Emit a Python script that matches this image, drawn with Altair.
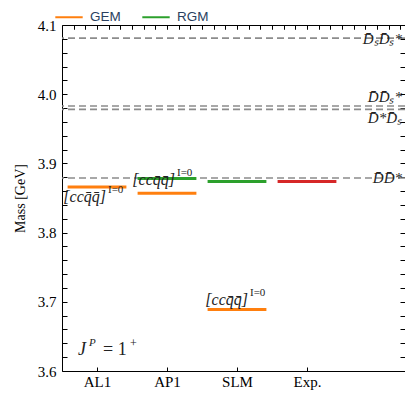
import altair as alt
import pandas as pd

# ---------------- data ----------------
models = ["AL1", "AP1", "SLM", "Exp."]
gem_models = ["AL1", "AP1", "SLM"]
gem_mass = [3.866, 3.857, 3.689]
rgm_models = ["AP1", "SLM"]
rgm_mass = [3.878, 3.874]
exp_models = ["Exp."]
exp_mass = [3.874]

thr_mass = [4.081, 3.983, 3.978, 3.879]
thr_label = ["D̄ₛD̄ₛ*", "D̄D̄ₛ*", "D̄*D̄ₛ", "D̄D̄*"]

y_major = [3.6, 3.7, 3.8, 3.9, 4.0, 4.1]

# ---------------- tables ----------------
rows = []
for m, v in zip(gem_models, gem_mass):
    rows.append({"model": m, "mass": v, "method": "GEM"})
for m, v in zip(rgm_models, rgm_mass):
    rows.append({"model": m, "mass": v, "method": "RGM"})
for m, v in zip(exp_models, exp_mass):
    rows.append({"model": m, "mass": v, "method": "Exp."})
lev = pd.DataFrame(rows)
lev["idx"] = lev["model"].map({m: i for i, m in enumerate(models)})
HALF = 0.42
lev["x0"] = lev["idx"] - HALF
lev["x1"] = lev["idx"] + HALF

thr = pd.DataFrame({"mass": thr_mass, "label": thr_label})

xscale = alt.Scale(domain=[-0.5, 4.4], nice=False, zero=False)
yscale = alt.Scale(domain=[3.6, 4.1], nice=False, zero=False)

SERIF = "Liberation Serif"
y_minor = [round(3.6 + 0.02 * i, 2) for i in range(26)]
x_top_minor = [-0.5 + i / 6 for i in range(1, 30)]

# ---------------- layers ----------------
rules = alt.Chart(thr).mark_rule(
    color="#8c8c8c", strokeWidth=1.6, strokeDash=[7, 4]
).encode(
    y=alt.Y("mass:Q", scale=yscale,
            axis=alt.Axis(orient="left", values=y_major, format=".1f", ticks=False,
                          domain=False, grid=False, labelFont=SERIF, labelFontSize=15,
                          labelColor="#000", labelPadding=6, title="Mass [GeV]",
                          titleFont=SERIF, titleFontSize=14, titleFontWeight="normal",
                          titleColor="#000", titlePadding=10))
)

levels = alt.Chart(lev).mark_rule(strokeWidth=3).encode(
    x=alt.X("x0:Q", scale=xscale,
            axis=alt.Axis(orient="bottom", values=[0, 1, 2, 3],
                          labelExpr=f"{models}[datum.value]", ticks=False, domain=False,
                          grid=False, labelFont=SERIF, labelFontSize=15, labelColor="#000",
                          labelPadding=3, title=None)),
    x2="x1:Q",
    y=alt.Y("mass:Q", scale=yscale,
            axis=alt.Axis(orient="left", values=y_minor, labels=False, domain=False,
                          grid=False, tickSize=5, offset=-5, tickColor="#000", title=None)),
    color=alt.Color("method:N",
                    scale=alt.Scale(domain=["GEM", "RGM", "Exp."],
                                    range=["#ff7f0e", "#2ca02c", "#d62728"]),
                    legend=alt.Legend(values=["GEM", "RGM"], orient="none", legendX=-8,
                                      legendY=-23, direction="horizontal", title=None,
                                      symbolType="stroke", symbolStrokeWidth=2,
                                      symbolSize=750, labelFont="Liberation Sans",
                                      labelFontSize=13.5, labelColor="#2a3f5f",
                                      columnPadding=17, labelOffset=6)),
)

layers = [rules, levels]

# threshold labels (right side)
thr_dy = [1, -9, 9, 0]
for i, (lab, v, dy) in enumerate(zip(thr_label, thr_mass, thr_dy)):
    d = pd.DataFrame({"mass": [v], "label": [lab], "xa": [4.4]})
    if i == 0:
        xax = alt.Axis(orient="bottom", values=[0, 1, 2, 3], labels=False, domain=False,
                       grid=False, tickSize=4, offset=-4, tickColor="#000", title=None)
        yax = alt.Axis(orient="right", values=y_minor, labels=False, domain=False,
                       grid=False, tickSize=5, offset=-5, tickColor="#000", title=None)
    else:
        xax = None
        yax = None
    layers.append(
        alt.Chart(d).mark_text(align="right", baseline="middle", dx=-3, dy=dy,
                               font=SERIF, fontStyle="italic", fontSize=15,
                               color="#222").encode(
            x=alt.X("xa:Q", scale=xscale, axis=xax),
            y=alt.Y("mass:Q", scale=yscale, axis=yax),
            text="label:N",
        )
    )

# [cc q q]^{I=0} labels
br_dx = [9, 8, 11]
br_dy = [10, -13, -9]
for i, (m, v, dx, dy) in enumerate(zip(gem_models, gem_mass, br_dx, br_dy)):
    d = pd.DataFrame({"xa": [models.index(m)], "mass": [v]})
    xax = alt.Axis(orient="top", values=x_top_minor, labels=False, domain=False,
                   grid=False, tickSize=4, offset=-4, tickColor="#000",
                   title=None) if i == 0 else None
    base = alt.Chart(d).encode(
        x=alt.X("xa:Q", scale=xscale, axis=xax),
        y=alt.Y("mass:Q", scale=yscale, axis=None),
    )
    layers.append(base.mark_text(align="right", baseline="middle", dx=dx, dy=dy,
                                 font=SERIF, fontStyle="italic", fontSize=16,
                                 color="#222", text="[ccq̄q̄]"))
    layers.append(base.mark_text(align="left", baseline="middle", dx=dx + 2, dy=dy - 7,
                                 font=SERIF, fontSize=11, color="#222", text="I=0"))

# J^P = 1^+
jd = pd.DataFrame({"xa": [-0.5], "mass": [3.6]})
jb = alt.Chart(jd).encode(
    x=alt.X("xa:Q", scale=xscale, axis=None),
    y=alt.Y("mass:Q", scale=yscale, axis=None),
)
layers += [
    jb.mark_text(align="left", baseline="middle", dx=16, dy=-21, font=SERIF,
                 fontStyle="italic", fontSize=18, color="#222", text="J"),
    jb.mark_text(align="left", baseline="middle", dx=27, dy=-28, font=SERIF,
                 fontStyle="italic", fontSize=11, color="#222", text="P"),
    jb.mark_text(align="left", baseline="middle", dx=41, dy=-21, font=SERIF,
                 fontSize=18, color="#222", text="= 1"),
    jb.mark_text(align="left", baseline="middle", dx=68, dy=-28, font=SERIF,
                 fontSize=12, color="#222", text="+"),
]

chart = alt.layer(*layers).resolve_axis(
    x="independent", y="independent"
).properties(
    width=343, height=346,
    autosize=alt.AutoSizeParams(type="none"),
    padding={"left": 54, "top": 17, "right": 0, "bottom": 19},
).configure_view(stroke="#000", strokeWidth=1)

chart.save("out.html", embed_options={"renderer": "svg", "actions": False})
